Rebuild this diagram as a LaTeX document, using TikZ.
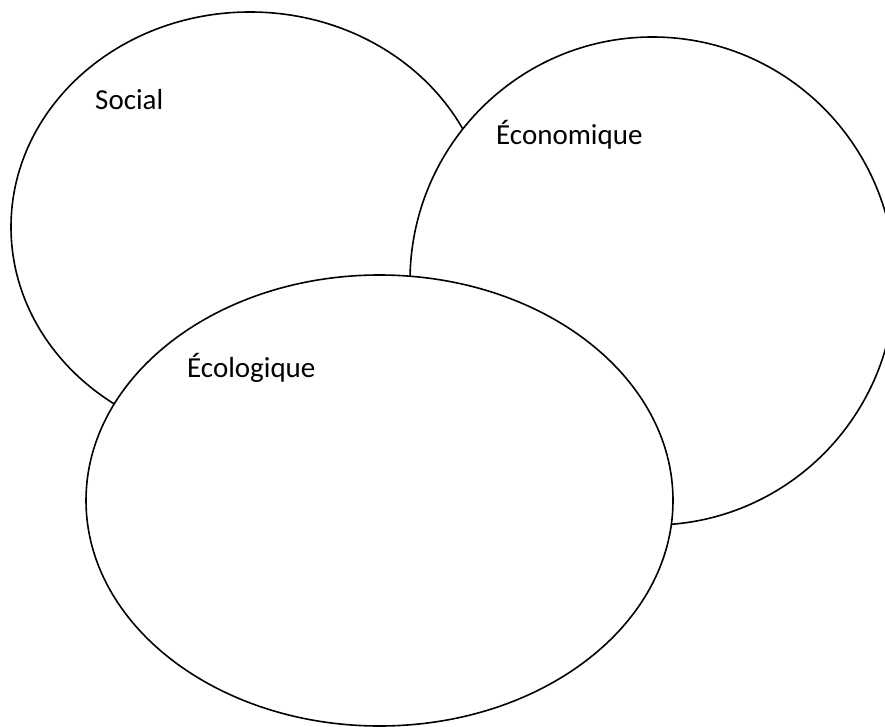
\documentclass[tikz,border=0pt]{standalone}
\usepackage{fontspec}
\setmainfont{Carlito}
\usetikzlibrary{shapes.geometric}
\begin{document}
\begin{tikzpicture}[x=1pt,y=-1pt,
  circ/.style={ellipse, draw=black, line width=1.6pt, fill=white, inner sep=0pt},
  lbl/.style={anchor=base west, inner sep=0pt, font=\fontsize{29}{34}\selectfont}]
\useasboundingbox (0,0) rectangle (885,727);
\clip (0,0) rectangle (885,727);
\fill[white] (0,0) rectangle (885,727);
\node[circ, minimum width=478pt, minimum height=430pt] (social) at (250,227) {};
\node[circ, minimum width=485pt, minimum height=488pt] (eco) at (652.5,281) {};
\node[circ, minimum width=587pt, minimum height=451pt] (ecol) at (379.5,500.5) {};
\node[lbl] (tsocial) at (95,110) {Social};
\node[lbl] (teco) at (496,145) {Économique};
\node[lbl] (tecol) at (187,377) {Écologique};
\end{tikzpicture}
\end{document}
